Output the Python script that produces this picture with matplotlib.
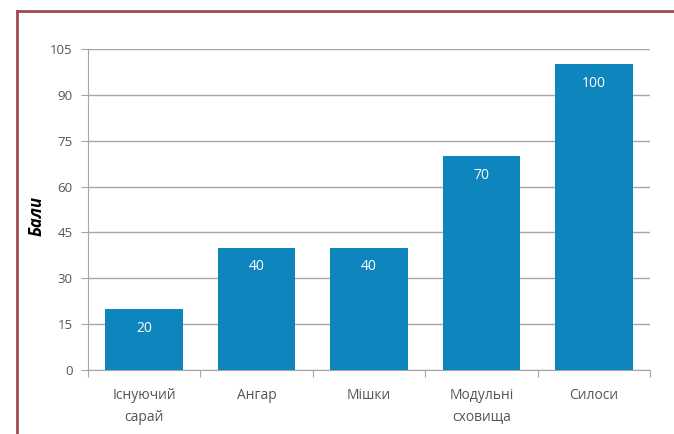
import matplotlib.pyplot as plt
from matplotlib.lines import Line2D
import numpy as np

categories = ["Існуючий\nсарай", "Ангар", "Мішки", "Модульні\nсховища", "Силоси"]
values = [20, 40, 40, 70, 100]
yticks = [0, 15, 30, 45, 60, 75, 90, 105]

plt.rcParams['font.family'] = ['Open Sans', 'DejaVu Sans']

fig = plt.figure(figsize=(6.74, 4.34), dpi=100)
fig.set_facecolor('white')
ax = fig.add_axes([88 / 674, 1 - 370 / 434, (650 - 88) / 674, (370 - 49) / 434])

x = np.arange(len(categories))
bars = ax.bar(x, values, width=0.69, color='#0f85bd', zorder=3)

# value labels inside the bars
for b, v in zip(bars, values):
    ax.text(b.get_x() + b.get_width() / 2, v - 6.3, str(v), ha='center', va='center',
            color='white', fontsize=10, zorder=4)

ax.set_xlim(-0.5, len(categories) - 0.5)
ax.set_ylim(0, 105)
ax.set_yticks(yticks)
ax.set_yticklabels([str(t) for t in yticks], fontsize=9.5, color='#555555')
ax.yaxis.grid(True, color='#a6a6a6', linewidth=1, zorder=0)

# x ticks between categories, labels at centres
ax.set_xticks(np.arange(-0.5, len(categories), 1.0))
ax.set_xticklabels([])
ax.set_xticks(x, minor=True)
ax.set_xticklabels(categories, minor=True, fontsize=10, color='#555555', linespacing=1.65)
ax.tick_params(axis='x', which='minor', length=0, pad=13)
ax.tick_params(axis='x', which='major', length=5, color='#a6a6a6', direction='out')
ax.tick_params(axis='y', length=5, color='#a6a6a6', pad=6)

for s in ['top', 'right']:
    ax.spines[s].set_visible(False)
ax.spines['left'].set_color('#a6a6a6')
ax.spines['bottom'].set_color('#a6a6a6')

ax.set_ylabel('Бали', fontsize=12, fontweight='bold', fontstyle='italic')
ax.yaxis.set_label_coords(-42 / 562, 0.48)

# frame of the figure (left and top edges)
fig.add_artist(Line2D([17 / 674, 17 / 674], [0, 1 - 11 / 434], transform=fig.transFigure,
                      color='#9e4a55', linewidth=2))
fig.add_artist(Line2D([17 / 674, 1], [1 - 11 / 434, 1 - 11 / 434], transform=fig.transFigure,
                      color='#9e4a55', linewidth=2))

fig.savefig('out.png', dpi=100)
